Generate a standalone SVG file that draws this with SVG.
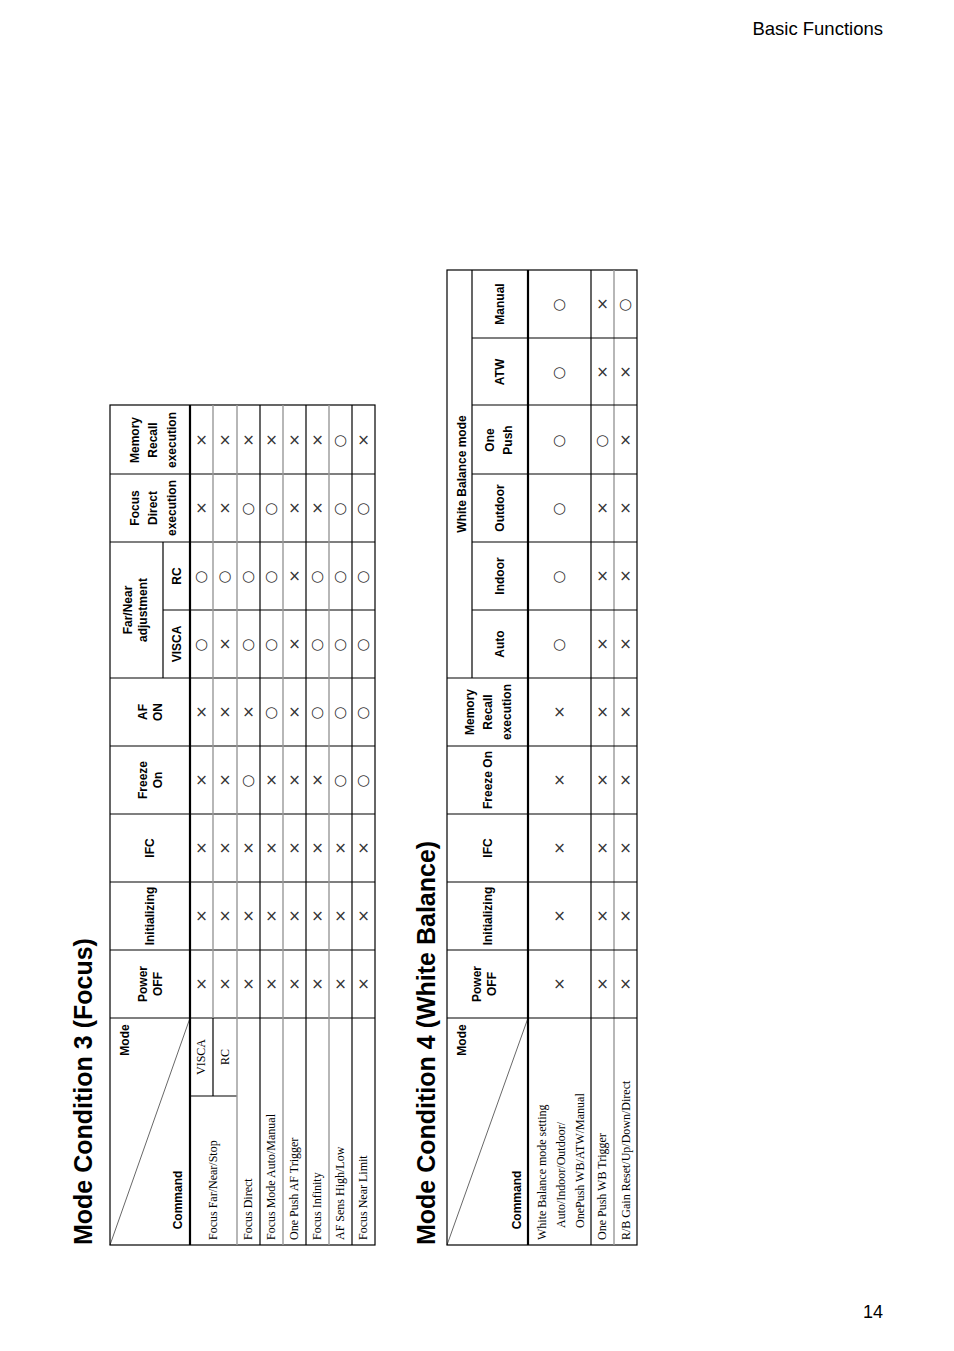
<svg xmlns="http://www.w3.org/2000/svg" width="954" height="1351" viewBox="0 0 954 1351">
<style>
.b{stroke:#000;stroke-width:1.2;fill:none}
.t{stroke:#000;stroke-width:2.2;fill:none}
.g{stroke:#999;stroke-width:1.4;fill:none}
.d{stroke:#000;stroke-width:0.6;fill:none}
.h{font-family:"Liberation Sans",Arial,sans-serif;font-weight:bold;font-size:12px;text-anchor:middle}
.c{font-family:"Liberation Serif","Times New Roman",serif;font-size:12px}
.s{font-family:"DejaVu Sans",sans-serif;font-size:15px;text-anchor:middle;dominant-baseline:central;fill:#333}
.ti{font-family:"Liberation Sans",Arial,sans-serif;font-weight:bold;font-size:25px}
</style>
<rect width="954" height="1351" fill="#fff"/>
<text x="883" y="35" font-family="Liberation Sans,Arial,sans-serif" font-size="18.5" text-anchor="end">Basic Functions</text>
<text x="883" y="1318" font-family="Liberation Sans,Arial,sans-serif" font-size="18" text-anchor="end">14</text>
<text class="ti" transform="translate(92,1245) rotate(-90)">Mode Condition 3 (Focus)</text>
<text class="ti" transform="translate(435,1245) rotate(-90)">Mode Condition 4 (White Balance)</text>

<g id="table1">
<g id="t1-lines">
<rect class="b" x="110" y="405" width="265" height="840"/>
<line class="t" x1="190" y1="405" x2="190" y2="1245"/>
<line class="b" x1="110" y1="1018" x2="375" y2="1018"/>
<line class="b" x1="110" y1="950" x2="375" y2="950"/>
<line class="b" x1="110" y1="882" x2="375" y2="882"/>
<line class="b" x1="110" y1="814" x2="375" y2="814"/>
<line class="b" x1="110" y1="746" x2="375" y2="746"/>
<line class="b" x1="110" y1="678" x2="375" y2="678"/>
<line class="b" x1="163" y1="610" x2="375" y2="610"/>
<line class="b" x1="110" y1="542" x2="375" y2="542"/>
<line class="b" x1="110" y1="474" x2="375" y2="474"/>
<line class="b" x1="163" y1="542" x2="163" y2="678"/>
<line class="g" x1="213" y1="405" x2="213" y2="1018"/>
<line class="b" x1="213" y1="1018" x2="213" y2="1096"/>
<line class="b" x1="190" y1="1096" x2="237" y2="1096"/>
<line class="g" x1="237" y1="405" x2="237" y2="1245"/>
<line class="b" x1="260" y1="405" x2="260" y2="1245"/>
<line class="g" x1="283" y1="405" x2="283" y2="1245"/>
<line class="b" x1="306" y1="405" x2="306" y2="1245"/>
<line class="g" x1="329" y1="405" x2="329" y2="1245"/>
<line class="b" x1="352" y1="405" x2="352" y2="1245"/>
<line class="d" x1="110" y1="1245" x2="190" y2="1018"/>
</g>
<g id="t1-header">
<text class="h" transform="translate(129,1040) rotate(-90)">Mode</text>
<text class="h" transform="translate(182,1200) rotate(-90)">Command</text>
<text class="h" transform="translate(147,984) rotate(-90)">Power</text>
<text class="h" transform="translate(162,984) rotate(-90)">OFF</text>
<text class="h" transform="translate(154,916) rotate(-90)">Initializing</text>
<text class="h" transform="translate(154,848) rotate(-90)">IFC</text>
<text class="h" transform="translate(147,780) rotate(-90)">Freeze</text>
<text class="h" transform="translate(162,780) rotate(-90)">On</text>
<text class="h" transform="translate(147,712) rotate(-90)">AF</text>
<text class="h" transform="translate(162,712) rotate(-90)">ON</text>
<text class="h" transform="translate(132,610) rotate(-90)">Far/Near</text>
<text class="h" transform="translate(147,610) rotate(-90)">adjustment</text>
<text class="h" transform="translate(181,644) rotate(-90)">VISCA</text>
<text class="h" transform="translate(181,576) rotate(-90)">RC</text>
<text class="h" transform="translate(139,508) rotate(-90)">Focus</text>
<text class="h" transform="translate(157,508) rotate(-90)">Direct</text>
<text class="h" transform="translate(176,508) rotate(-90)">execution</text>
<text class="h" transform="translate(139,440) rotate(-90)">Memory</text>
<text class="h" transform="translate(157,440) rotate(-90)">Recall</text>
<text class="h" transform="translate(176,440) rotate(-90)">execution</text>
</g>
<g id="t1-rows" class="c">
<text transform="translate(217,1240) rotate(-90)">Focus Far/Near/Stop</text>
<text transform="translate(205,1057) rotate(-90)" text-anchor="middle">VISCA</text>
<text transform="translate(229,1057) rotate(-90)" text-anchor="middle">RC</text>
<text transform="translate(252,1240) rotate(-90)">Focus Direct</text>
<text transform="translate(275,1240) rotate(-90)">Focus Mode Auto/Manual</text>
<text transform="translate(298,1240) rotate(-90)">One Push AF Trigger</text>
<text transform="translate(321,1240) rotate(-90)">Focus Infinity</text>
<text transform="translate(344,1240) rotate(-90)">AF Sens High/Low</text>
<text transform="translate(367,1240) rotate(-90)">Focus Near Limit</text>
</g>
<g id="t1-data" class="s">
<text x="201.5" y="984">×</text><text x="201.5" y="916">×</text><text x="201.5" y="848">×</text><text x="201.5" y="780">×</text><text x="201.5" y="712">×</text><text x="201.5" y="644">○</text><text x="201.5" y="576">○</text><text x="201.5" y="508">×</text><text x="201.5" y="440">×</text>
<text x="225" y="984">×</text><text x="225" y="916">×</text><text x="225" y="848">×</text><text x="225" y="780">×</text><text x="225" y="712">×</text><text x="225" y="644">×</text><text x="225" y="576">○</text><text x="225" y="508">×</text><text x="225" y="440">×</text>
<text x="248.5" y="984">×</text><text x="248.5" y="916">×</text><text x="248.5" y="848">×</text><text x="248.5" y="780">○</text><text x="248.5" y="712">×</text><text x="248.5" y="644">○</text><text x="248.5" y="576">○</text><text x="248.5" y="508">○</text><text x="248.5" y="440">×</text>
<text x="271.5" y="984">×</text><text x="271.5" y="916">×</text><text x="271.5" y="848">×</text><text x="271.5" y="780">×</text><text x="271.5" y="712">○</text><text x="271.5" y="644">○</text><text x="271.5" y="576">○</text><text x="271.5" y="508">○</text><text x="271.5" y="440">×</text>
<text x="294.5" y="984">×</text><text x="294.5" y="916">×</text><text x="294.5" y="848">×</text><text x="294.5" y="780">×</text><text x="294.5" y="712">×</text><text x="294.5" y="644">×</text><text x="294.5" y="576">×</text><text x="294.5" y="508">×</text><text x="294.5" y="440">×</text>
<text x="317.5" y="984">×</text><text x="317.5" y="916">×</text><text x="317.5" y="848">×</text><text x="317.5" y="780">×</text><text x="317.5" y="712">○</text><text x="317.5" y="644">○</text><text x="317.5" y="576">○</text><text x="317.5" y="508">×</text><text x="317.5" y="440">×</text>
<text x="340.5" y="984">×</text><text x="340.5" y="916">×</text><text x="340.5" y="848">×</text><text x="340.5" y="780">○</text><text x="340.5" y="712">○</text><text x="340.5" y="644">○</text><text x="340.5" y="576">○</text><text x="340.5" y="508">○</text><text x="340.5" y="440">○</text>
<text x="363.5" y="984">×</text><text x="363.5" y="916">×</text><text x="363.5" y="848">×</text><text x="363.5" y="780">○</text><text x="363.5" y="712">○</text><text x="363.5" y="644">○</text><text x="363.5" y="576">○</text><text x="363.5" y="508">○</text><text x="363.5" y="440">×</text>
</g>
</g>

<g id="table2">
<g id="t2-lines">
<rect class="b" x="447" y="270" width="190" height="975"/>
<line class="t" x1="528" y1="270" x2="528" y2="1245"/>
<line class="b" x1="591" y1="270" x2="591" y2="1245"/>
<line class="g" x1="614" y1="270" x2="614" y2="1245"/>
<line class="b" x1="447" y1="1018" x2="637" y2="1018"/>
<line class="b" x1="447" y1="950" x2="637" y2="950"/>
<line class="b" x1="447" y1="882" x2="637" y2="882"/>
<line class="b" x1="447" y1="814" x2="637" y2="814"/>
<line class="b" x1="447" y1="746" x2="637" y2="746"/>
<line class="b" x1="447" y1="678" x2="637" y2="678"/>
<line class="b" x1="472" y1="610" x2="637" y2="610"/>
<line class="b" x1="472" y1="542" x2="637" y2="542"/>
<line class="b" x1="472" y1="474" x2="637" y2="474"/>
<line class="b" x1="472" y1="405" x2="637" y2="405"/>
<line class="b" x1="472" y1="338" x2="637" y2="338"/>
<line class="b" x1="472" y1="270" x2="472" y2="678"/>
<line class="d" x1="447" y1="1245" x2="528" y2="1018"/>
</g>
<g id="t2-header">
<text class="h" transform="translate(466,1040) rotate(-90)">Mode</text>
<text class="h" transform="translate(521,1200) rotate(-90)">Command</text>
<text class="h" transform="translate(481,984) rotate(-90)">Power</text>
<text class="h" transform="translate(496,984) rotate(-90)">OFF</text>
<text class="h" transform="translate(492,916) rotate(-90)">Initializing</text>
<text class="h" transform="translate(492,848) rotate(-90)">IFC</text>
<text class="h" transform="translate(492,780) rotate(-90)">Freeze On</text>
<text class="h" transform="translate(474,712) rotate(-90)">Memory</text>
<text class="h" transform="translate(492,712) rotate(-90)">Recall</text>
<text class="h" transform="translate(511,712) rotate(-90)">execution</text>
<text class="h" transform="translate(466,474) rotate(-90)">White Balance mode</text>
<text class="h" transform="translate(504,644) rotate(-90)">Auto</text>
<text class="h" transform="translate(504,576) rotate(-90)">Indoor</text>
<text class="h" transform="translate(504,508) rotate(-90)">Outdoor</text>
<text class="h" transform="translate(494,440) rotate(-90)">One</text>
<text class="h" transform="translate(512,440) rotate(-90)">Push</text>
<text class="h" transform="translate(504,372) rotate(-90)">ATW</text>
<text class="h" transform="translate(504,304) rotate(-90)">Manual</text>
</g>
<g id="t2-rows" class="c">
<text transform="translate(546,1240) rotate(-90)">White Balance mode setting</text>
<text transform="translate(565,1228) rotate(-90)">Auto/Indoor/Outdoor/</text>
<text transform="translate(584,1228) rotate(-90)">OnePush WB/ATW/Manual</text>
<text transform="translate(606,1240) rotate(-90)">One Push WB Trigger</text>
<text transform="translate(630,1240) rotate(-90)">R/B Gain Reset/Up/Down/Direct</text>
</g>
<g id="t2-data" class="s">
<text x="559.5" y="984">×</text><text x="559.5" y="916">×</text><text x="559.5" y="848">×</text><text x="559.5" y="780">×</text><text x="559.5" y="712">×</text><text x="559.5" y="644">○</text><text x="559.5" y="576">○</text><text x="559.5" y="508">○</text><text x="559.5" y="440">○</text><text x="559.5" y="372">○</text><text x="559.5" y="304">○</text>
<text x="602.5" y="984">×</text><text x="602.5" y="916">×</text><text x="602.5" y="848">×</text><text x="602.5" y="780">×</text><text x="602.5" y="712">×</text><text x="602.5" y="644">×</text><text x="602.5" y="576">×</text><text x="602.5" y="508">×</text><text x="602.5" y="440">○</text><text x="602.5" y="372">×</text><text x="602.5" y="304">×</text>
<text x="625.5" y="984">×</text><text x="625.5" y="916">×</text><text x="625.5" y="848">×</text><text x="625.5" y="780">×</text><text x="625.5" y="712">×</text><text x="625.5" y="644">×</text><text x="625.5" y="576">×</text><text x="625.5" y="508">×</text><text x="625.5" y="440">×</text><text x="625.5" y="372">×</text><text x="625.5" y="304">○</text>
</g>
</g>
</svg>
